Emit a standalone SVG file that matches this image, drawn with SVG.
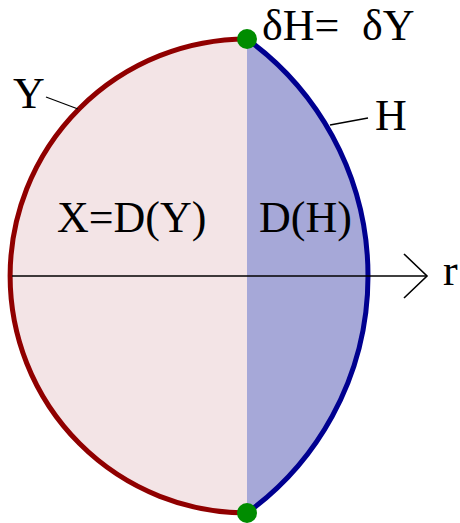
<svg xmlns="http://www.w3.org/2000/svg" width="460" height="523" viewBox="0 0 460 523">
<style>
.t{font-family:"Liberation Serif","Times New Roman",serif;font-size:44px;fill:#000}
.lead{stroke:#000;stroke-width:1.3;fill:none}
.dot{fill:#008c00}
</style>
<rect width="460" height="523" fill="#fff"/>
<g id="regionY">
<path d="M247,39 A237,237 0 0 0 247,513 Z" fill="#f3e4e6"/>
<path d="M247,39 A237,237 0 0 0 247,513" fill="none" stroke="#900000" stroke-width="5"/>
</g>
<g id="regionH">
<path d="M247,39 A292.6,292.6 0 0 1 247,513 Z" fill="#a6a8d8"/>
<path d="M247,39 A292.6,292.6 0 0 1 247,513" fill="none" stroke="#000090" stroke-width="5"/>
</g>
<g id="connectors">
<line x1="12" y1="276" x2="427" y2="276" stroke="#000" stroke-width="1.6"/>
<polyline points="404,254 427,276 404,298" fill="none" stroke="#000" stroke-width="1.6"/>
<line class="lead" x1="46" y1="97" x2="78" y2="109"/>
<line class="lead" x1="330" y1="125" x2="368" y2="118"/>
</g>
<g id="points">
<circle class="dot" cx="247" cy="39" r="10"/>
<circle class="dot" cx="247" cy="513" r="10"/>
</g>
<g id="labels">
<text class="t" x="262" y="40">δH=<tspan x="362">δY</tspan></text>
<text class="t" x="13" y="108">Y</text>
<text class="t" x="375" y="130">H</text>
<text class="t" x="57" y="232">X=D(Y)</text>
<text class="t" x="259" y="232">D(H)</text>
<text class="t" x="443" y="285">r</text>
</g>
</svg>
